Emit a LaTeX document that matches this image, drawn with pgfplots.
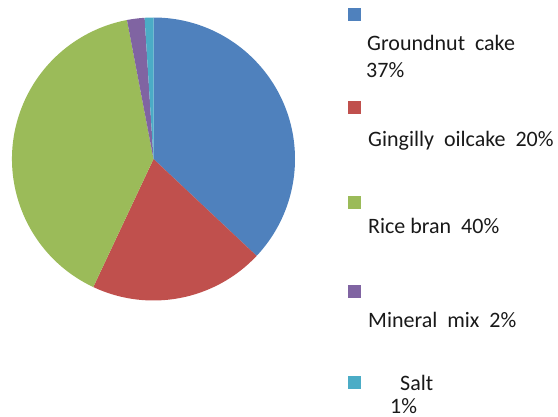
\documentclass[border=0pt]{standalone}
\usepackage{pgfplots}
\usepackage{pgfplotstable}
\pgfplotsset{compat=1.18}
\usepackage{fontspec}
\setmainfont{Carlito}
\definecolor{cA}{HTML}{4F81BD}
\definecolor{cB}{HTML}{C0504D}
\definecolor{cC}{HTML}{9BBB59}
\definecolor{cD}{HTML}{8064A2}
\definecolor{cE}{HTML}{4BACC6}
\pgfplotstableread{
value color
37 cA
20 cB
40 cC
2 cD
1 cE
}\piedata
\begin{document}
\begin{tikzpicture}[trim left=0bp, trim right=558bp,
  lbl/.style={font=\fontsize{22bp}{26bp}\selectfont, inner sep=0pt, text=black!90, anchor=base west}]
\begin{axis}[at={(0,0)},anchor=origin,x=1bp,y=1bp,xmin=0,xmax=558,ymin=0,ymax=417,hide axis,clip=false]
\path (axis cs:0,0) rectangle (axis cs:558,417);%
\pgfplotstablegetrowsof{\piedata}%
\pgfmathtruncatemacro\lastrow{\pgfplotsretval-1}%
\def\cum{0}%
\pgfplotsforeachungrouped \i in {0,...,\lastrow}{%
  \pgfplotstablegetelem{\i}{value}\of\piedata%
  \let\v\pgfplotsretval%
  \pgfmathsetmacro\a{90-3.6*\cum}%
  \pgfmathsetmacro\b{90-3.6*(\cum+\v)}%
  \pgfplotstablegetelem{\i}{color}\of\piedata%
  \let\c\pgfplotsretval%
  \edef\tmp{\noexpand\fill[\c] (axis cs:153.5,258) -- ++(\a:141.5bp) arc[start angle=\a,end angle=\b,radius=141.5bp] -- cycle;}%
  \tmp%
  \pgfmathsetmacro\cum{\cum+\v}%
}%
% legend
\fill[cA] (axis cs:348,396) rectangle (axis cs:361,409);
\fill[cB] (axis cs:348,303) rectangle (axis cs:361,316);
\fill[cC] (axis cs:348,208) rectangle (axis cs:361,221);
\fill[cD] (axis cs:348,119) rectangle (axis cs:361,132);
\fill[cE] (axis cs:348,28) rectangle (axis cs:361,41);
\node[lbl] at (axis cs:367,367) {Groundnut\ \ cake};
\node[lbl] at (axis cs:366,340) {37\%};
\node[lbl] at (axis cs:368,271) {Gingilly\ \ oilcake\ \ 20\%};
\node[lbl] at (axis cs:368,184) {Rice bran\ \ 40\%};
\node[lbl] at (axis cs:368,90) {Mineral\ \ mix\ \ 2\%};
\node[lbl] at (axis cs:400,27) {Salt};
\node[lbl] at (axis cs:390,4) {1\%};
\end{axis}
\end{tikzpicture}
\end{document}
